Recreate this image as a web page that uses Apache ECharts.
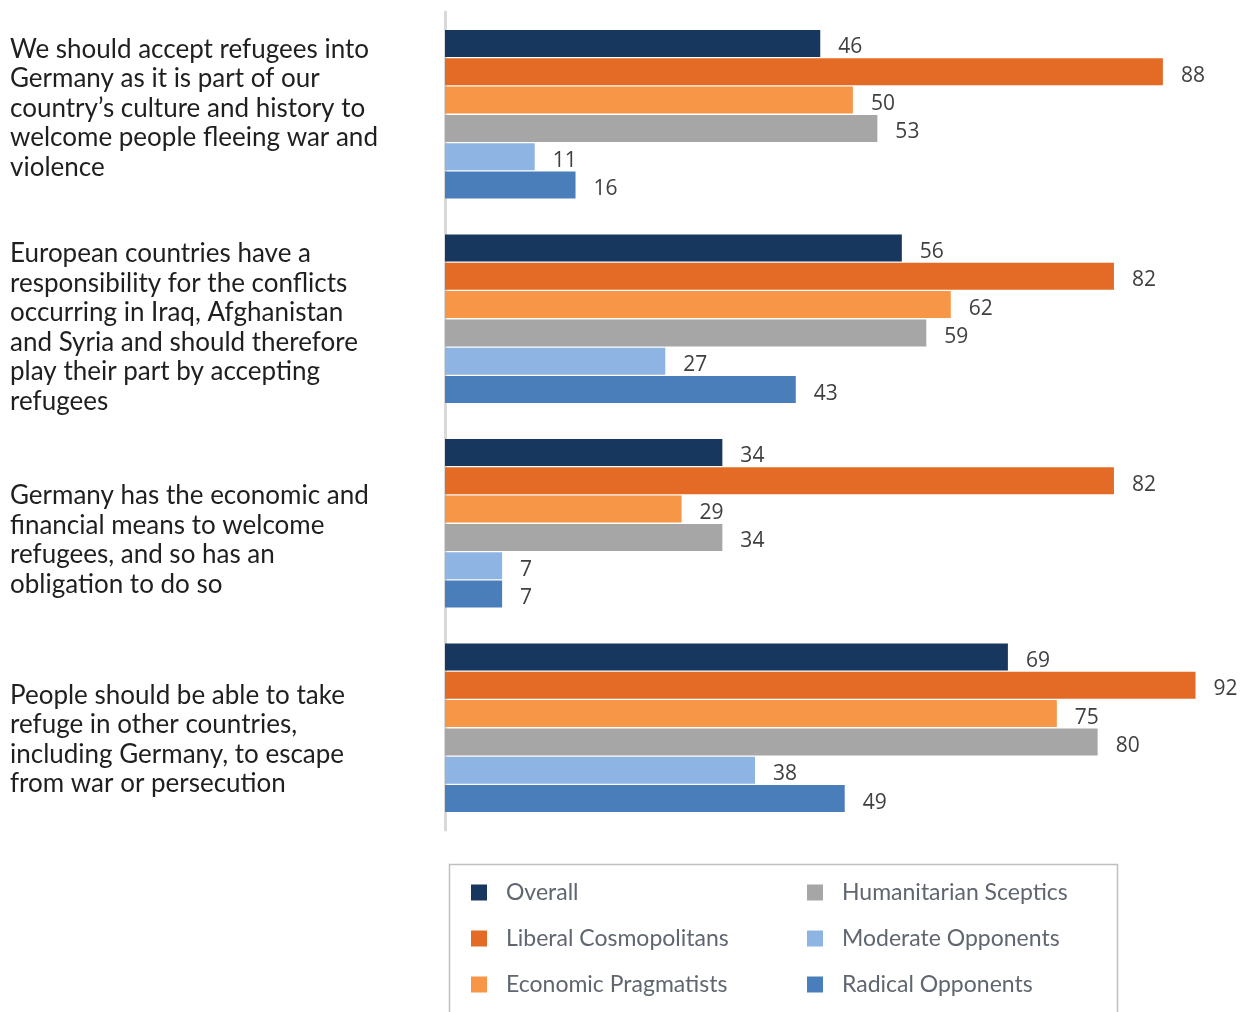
<!DOCTYPE html>
<html>
<head>
<meta charset="utf-8">
<script src="https://cdn.jsdelivr.net/npm/echarts@6/dist/echarts.min.js"></script>
<style>
html,body{margin:0;padding:0;background:#fff;}
#main{width:1243px;height:1012px;}
</style>
</head>
<body>
<div id="main"></div>
<script>
const categories = [
  "We should accept refugees into\nGermany as it is part of our\ncountry\u2019s culture and history to\nwelcome people fleeing war and\nviolence",
  "European countries have a\nresponsibility for the conflicts\noccurring in Iraq, Afghanistan\nand Syria and should therefore\nplay their part by accepting\nrefugees",
  "Germany has the economic and\nfinancial means to welcome\nrefugees, and so has an\nobligation to do so",
  "People should be able to take\nrefuge in other countries,\nincluding Germany, to escape\nfrom war or persecution"
];
const seriesNames = ["Overall","Liberal Cosmopolitans","Economic Pragmatists","Humanitarian Sceptics","Moderate Opponents","Radical Opponents"];
const overall = [46, 56, 34, 69];
const liberalCosmopolitans = [88, 82, 82, 92];
const economicPragmatists = [50, 62, 29, 75];
const humanitarianSceptics = [53, 59, 34, 80];
const moderateOpponents = [11, 27, 7, 38];
const radicalOpponents = [16, 43, 7, 49];
const seriesValues = [overall, liberalCosmopolitans, economicPragmatists, humanitarianSceptics, moderateOpponents, radicalOpponents];
const colors = ["#17375e","#e46b25","#f79646","#a6a6a6","#8eb4e3","#4a7ebb"];
// vertical nudges of the category label blocks relative to band centre (style only)
const labelNudge = [-6, 9, 17, 12];

const chart = echarts.init(document.getElementById('main'), null, {renderer:'canvas'});
const legendText = {color:'#5f6670', fontSize:23, fontFamily:'Lato, "DejaVu Sans", sans-serif', padding:[0,0,0,14]};
chart.setOption({
  animation:false,
  color: colors,
  grid:{left:445, right:23, top:12, bottom:182, containLabel:false, outerBoundsMode:'none'},
  xAxis:{type:'value', min:0, max:95, show:false, splitLine:{show:false}},
  yAxis:{
    type:'category', inverse:true, data:categories,
    axisLine:{show:true, lineStyle:{color:'#d9d9d9', width:3}},
    axisTick:{show:false},
    axisLabel:{show:false}
  },
  legend:[
    {data:seriesNames.slice(0,3), orient:'vertical', left:466, top:876, itemWidth:16, itemHeight:16, itemGap:23, icon:'rect', textStyle:legendText},
    {data:seriesNames.slice(3,6), orient:'vertical', left:802, top:876, itemWidth:16, itemHeight:16, itemGap:23, icon:'rect', textStyle:legendText}
  ],
  series: seriesNames.map((n,i)=>({
    name:n, type:'bar', data:seriesValues[i],
    barGap:'5%', barCategoryGap:'17.5%',
    itemStyle:{color:colors[i]},
    label:{show:true, position:'right', distance:18, offset:[0,4], color:'#404040', fontSize:21, fontFamily:'"Open Sans", sans-serif'}
  }))
});

const graphics = [{type:'rect', left:447, top:862, shape:{width:668, height:170}, style:{fill:'none', stroke:'#bfbfbf', lineWidth:1.5}, silent:true}];
categories.forEach((c,i)=>{
  const cy = chart.convertToPixel({yAxisIndex:0}, i);
  graphics.push({
    type:'text', x:10, y:cy + labelNudge[i], silent:true,
    style:{text:c, fill:'#1f1f1f', fontSize:26, lineHeight:29.5, fontFamily:'Lato, "DejaVu Sans", sans-serif', align:'left', verticalAlign:'middle'}
  });
});
chart.setOption({graphic:graphics});
</script>
</body>
</html>
